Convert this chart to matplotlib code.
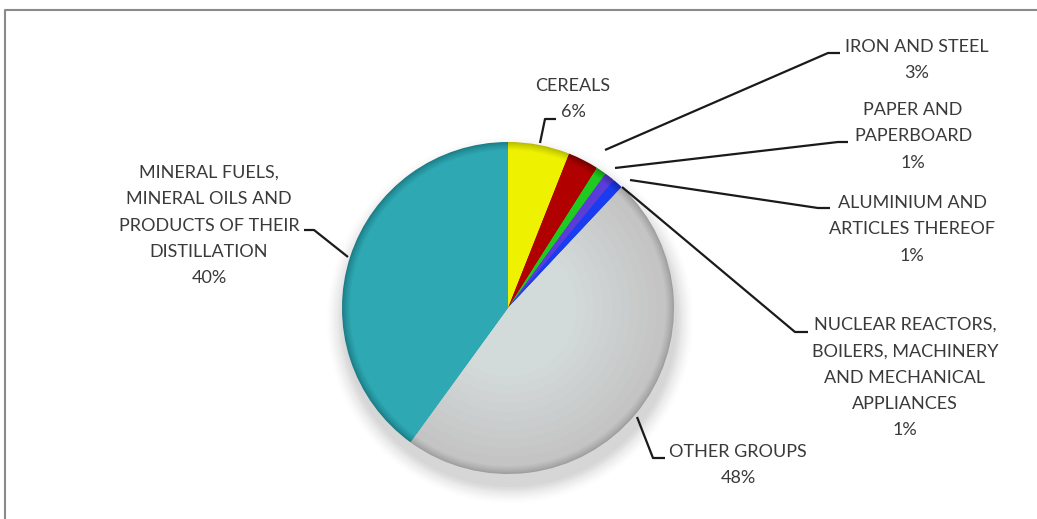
import matplotlib
matplotlib.use("Agg")
import matplotlib.pyplot as plt
from matplotlib.colors import to_rgb
import numpy as np

# ---- data ----
categories = ["CEREALS", "IRON AND STEEL", "PAPER AND\nPAPERBOARD",
              "ALUMINIUM AND\nARTICLES THEREOF",
              "NUCLEAR REACTORS,\nBOILERS, MACHINERY\nAND MECHANICAL\nAPPLIANCES",
              "OTHER GROUPS",
              "MINERAL FUELS,\nMINERAL OILS AND\nPRODUCTS OF THEIR\nDISTILLATION"]
shares = [6, 3, 1, 1, 1, 48, 40]
pct_labels = ["6%", "3%", "1%", "1%", "1%", "48%", "40%"]

# ---- styling ----
colors = ["#EEF200", "#B00000", "#1FCB1F", "#5A3CD8", "#1A3CF0", "#C4C4C4", "#2EA8B2"]
rim_colors = ["#B8BC00", "#700000", "#129013", "#3A2898", "#1028A8", "#9E9E9E", "#1C7D87"]
inner_colors = ["#EEF200", "#B00000", "#1FCB1F", "#5A3CD8", "#1A3CF0", "#D3DADA", "#2EA8B2"]

W, H = 1037, 519
fig = plt.figure(figsize=(W / 100, H / 100), dpi=100)
ax = fig.add_axes([0, 0, 1, 1])

def Y(y):
    return H - y

cx, cy, R = 508, 308, 166

# soft shadow below the pie
for i, a in enumerate(np.linspace(0.06, 0.012, 9)):
    sh = plt.Circle((cx + 2, Y(cy + 12)), R + 1 + i * 2, color="#7a7a7a", alpha=a, lw=0, zorder=1)
    ax.add_patch(sh)

def mix(c1, c2, t):
    a, b = np.array(to_rgb(c1)), np.array(to_rgb(c2))
    return tuple(a + (b - a) * t)

# radial shading: rim -> base -> inner
radii = list(np.arange(R, R - 8, -1.0)) + list(np.linspace(R - 8, R * 0.25, 14))
for j, r in enumerate(radii):
    cols = []
    for base, rim, inn in zip(colors, rim_colors, inner_colors):
        if r > R - 8:
            t = (R - r) / 8.0
            cols.append(mix(rim, base, t ** 0.8))
        else:
            t = (R - 8 - r) / (R - 8 - R * 0.25)
            cols.append(mix(base, inn, min(1, t * 1.3)))
    ax.pie(shares, colors=cols, startangle=90, counterclock=False,
           center=(cx, Y(cy)), radius=r, frame=True,
           wedgeprops=dict(linewidth=0, zorder=2 + j * 0.01, antialiased=True))

ax.set_xlim(0, W)
ax.set_ylim(0, H)
ax.set_aspect("auto")
ax.axis("off")

# ---- labels (layout) ----
font = dict(family=["Lato", "DejaVu Sans"], fontsize=13, color="#3a3a3a")
label_centers = [(573, 86), (917, 47), (913, 110), (912, 203), (905, 325), (738, 452), (209, 173)]
line_step = 26.3
# leader polylines: (tip on pie, elbow, end)
leaders = [
    [(540, 143), (545, 119), (556, 119)],
    [(605, 150), (828, 53), (840, 53)],
    [(615, 168), (838, 142), (848, 142)],
    [(630, 180), (818, 208), (830, 208)],
    [(622, 187), (795, 332), (808, 332)],
    [(637, 417), (653, 458), (665, 458)],
    [(348, 257), (314, 230), (304, 230)],
]

for cat, pct, (lx, ly), pts in zip(categories, pct_labels, label_centers, leaders):
    lines = cat.split("\n") + [pct]
    for k, t in enumerate(lines):
        ax.text(lx, Y(ly + k * line_step), t, ha="center", va="center", **font, zorder=6)
    xs = [p[0] for p in pts]
    ys = [Y(p[1]) for p in pts]
    ax.plot(xs, ys, color="#1a1a1a", lw=1.6, zorder=5, solid_capstyle="butt")

# chart-area border
ax.plot([4.5, 4.5, W], [0, Y(9.5), Y(9.5)], color="#8a8a8a", lw=1.5, zorder=7)

fig.savefig("out.png", dpi=100)
